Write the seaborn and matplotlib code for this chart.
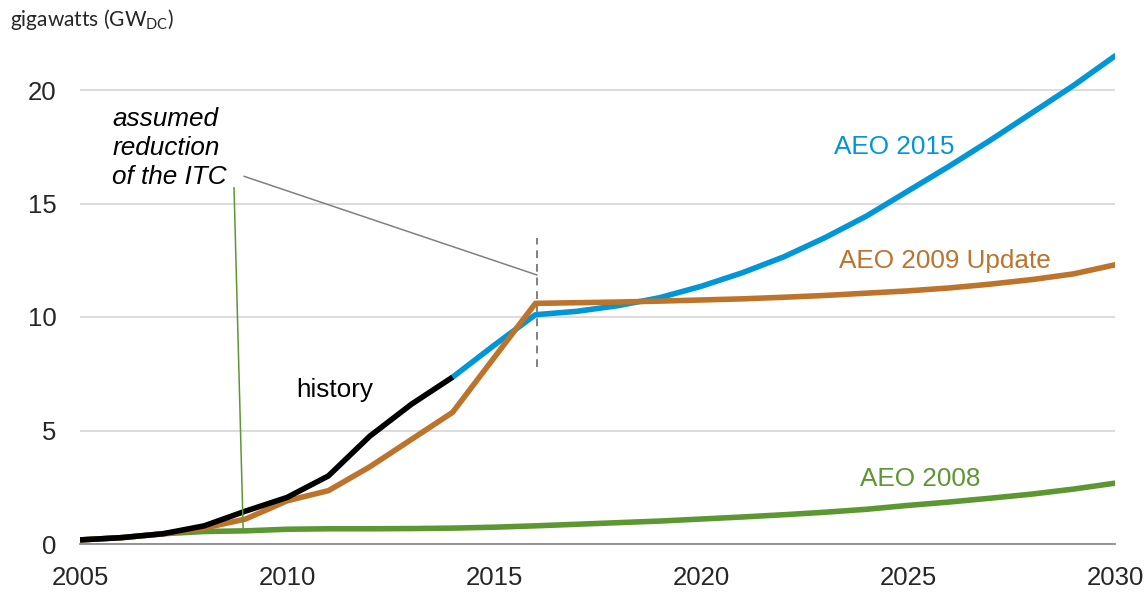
import numpy as np
import pandas as pd
import matplotlib
matplotlib.use("Agg")
import matplotlib.pyplot as plt
import seaborn as sns

# values (GW DC)
hist_years = [2005, 2006, 2007, 2008, 2009, 2010, 2011, 2012, 2013, 2014]
hist_vals = [0.18, 0.28, 0.45, 0.8, 1.45, 2.05, 3.0, 4.75, 6.15, 7.35]

aeo2015_years = [2014, 2015, 2016, 2017, 2018, 2019, 2020, 2021, 2022, 2023,
                 2024, 2025, 2026, 2027, 2028, 2029, 2030]
aeo2015_vals = [7.35, 8.75, 10.1, 10.25, 10.5, 10.85, 11.35, 11.95, 12.65, 13.5,
                14.45, 15.55, 16.65, 17.8, 19.0, 20.2, 21.5]

aeo2009_years = [2005, 2006, 2007, 2008, 2009, 2010, 2011, 2012, 2013, 2014, 2015,
                 2016, 2017, 2018, 2019, 2020, 2021, 2022, 2023, 2024, 2025,
                 2026, 2027, 2028, 2029, 2030]
aeo2009_vals = [0.18, 0.28, 0.45, 0.7, 1.1, 1.9, 2.35, 3.4, 4.6, 5.8, 8.2,
                10.6, 10.63, 10.66, 10.7, 10.75, 10.8, 10.87, 10.95, 11.05, 11.15,
                11.28, 11.45, 11.65, 11.9, 12.3]

aeo2008_years = [2005, 2006, 2007, 2008, 2009, 2010, 2011, 2012, 2013, 2014, 2015,
                 2016, 2017, 2018, 2019, 2020, 2021, 2022, 2023, 2024, 2025,
                 2026, 2027, 2028, 2029, 2030]
aeo2008_vals = [0.18, 0.28, 0.45, 0.55, 0.58, 0.65, 0.67, 0.67, 0.68, 0.7, 0.74,
                0.8, 0.87, 0.94, 1.01, 1.1, 1.19, 1.29, 1.4, 1.53, 1.7,
                1.85, 2.02, 2.2, 2.42, 2.68]

x_ticks = [2005, 2010, 2015, 2020, 2025, 2030]
y_ticks = [0, 5, 10, 15, 20]

blue = "#0096D7"
orange = "#BD732A"
green = "#5D9732"
grey = "#808080"

sns.set_style("white")
plt.rcParams["font.family"] = ["Liberation Sans", "DejaVu Sans"]

fig = plt.figure(figsize=(11.47, 5.92), dpi=100)
ax = fig.add_axes([80 / 1147, 1 - 544 / 592, (1115 - 80) / 1147, (544 - 44.6) / 592])

lw = 4.0
sns.lineplot(x=aeo2008_years, y=aeo2008_vals, color=green, lw=lw, ax=ax,
             solid_capstyle="round", zorder=3)
sns.lineplot(x=aeo2015_years, y=aeo2015_vals, color=blue, lw=lw, ax=ax,
             solid_capstyle="round", zorder=4)
sns.lineplot(x=aeo2009_years, y=aeo2009_vals, color=orange, lw=lw, ax=ax,
             solid_capstyle="round", zorder=5)
sns.lineplot(x=hist_years, y=hist_vals, color="black", lw=lw, ax=ax,
             solid_capstyle="butt", zorder=6)

# ITC annotation lines
ax.plot([2016.04, 2016.04], [7.8, 13.5], color=grey, lw=1.4, ls=(0, (4, 3)), zorder=7)
ax.plot([2008.96, 2016.04], [16.2, 11.85], color=grey, lw=1.1, zorder=7)
ax.plot([2008.72, 2008.94], [15.7, 0.7], color=green, lw=1.1, zorder=7)

ax.set_xlim(2005, 2030)
ax.set_ylim(0, 22)
ax.set_xticks(x_ticks)
ax.set_yticks(y_ticks)
ax.yaxis.grid(True, color="#D9D9D9", lw=1.3)
ax.set_axisbelow(True)
for s in ["left", "right", "top"]:
    ax.spines[s].set_visible(False)
ax.spines["bottom"].set_color("#8C8C8C")
ax.spines["bottom"].set_linewidth(1.3)
ax.tick_params(axis="x", length=5, width=1.3, color="#8C8C8C", pad=11,
               labelsize=18.5, direction="out")
ax.tick_params(axis="y", length=0, pad=17, labelsize=18.5)
ax.set_xlabel("")
ax.set_ylabel("")

fs = 18.8
ax.text(2024.66, 17.5, "AEO 2015", color=blue, fontsize=fs, ha="center", va="center")
ax.text(2025.9, 12.45, "AEO 2009 Update", color=orange, fontsize=fs, ha="center", va="center")
ax.text(2025.3, 2.85, "AEO 2008", color=green, fontsize=fs, ha="center", va="center")
ax.text(2011.16, 6.8, "history", color="black", fontsize=fs, ha="center", va="center")
ax.text(2005.78, 17.45, "assumed\nreduction\nof the ITC", color="black", fontsize=fs,
        style="italic", ha="left", va="center", linespacing=1.25)

fig.text(10 / 1147, 1 - 20 / 592, r"gigawatts (GW$\mathregular{_{DC}}$)",
         fontsize=15, ha="left", va="center", family=["Lato", "DejaVu Sans"])

fig.savefig("out.png", dpi=100)
